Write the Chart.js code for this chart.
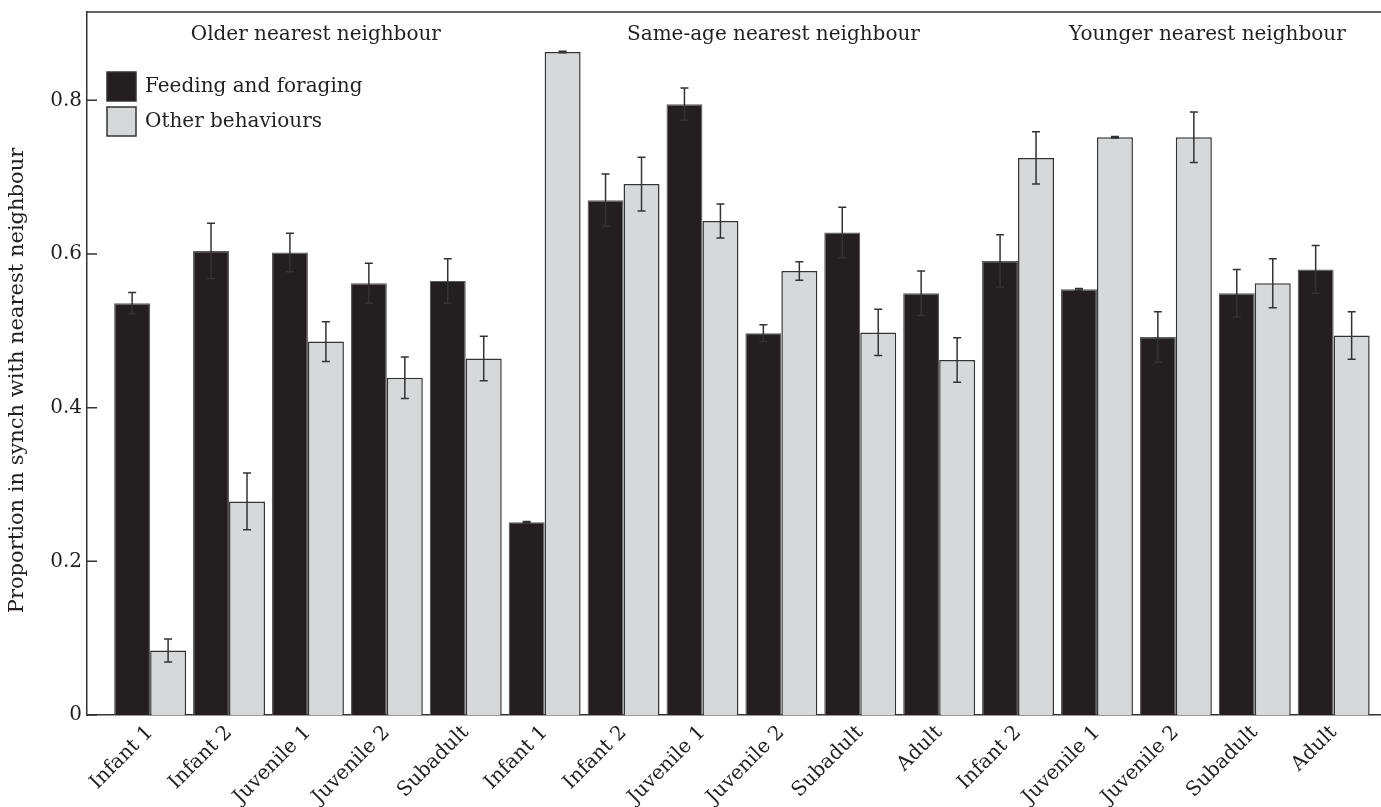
<!DOCTYPE html>
<html>
<head>
<meta charset="utf-8">
<script src="https://cdn.jsdelivr.net/npm/chart.js@4/dist/chart.umd.min.js"></script>
<style>
  html, body { margin: 0; padding: 0; background: #fff; }
  #wrap { width: 1381px; height: 807px; position: relative; }
</style>
</head>
<body>
<div id="wrap"><canvas id="synchChart"></canvas></div>
<script>
// age class of the focal animal, grouped by age of its nearest neighbour
const xLabels = ['Infant 1', 'Infant 2', 'Juvenile 1', 'Juvenile 2', 'Subadult',
    'Infant 1', 'Infant 2', 'Juvenile 1', 'Juvenile 2', 'Subadult', 'Adult',
    'Infant 2', 'Juvenile 1', 'Juvenile 2', 'Subadult', 'Adult'];

const feeding    = [0.536, 0.604, 0.602, 0.562, 0.565, 0.251, 0.670, 0.795, 0.497, 0.628, 0.549, 0.591, 0.554, 0.492, 0.549, 0.580];
const feedingErr = [0.014, 0.036, 0.025, 0.026, 0.029, 0.001, 0.034, 0.021, 0.011, 0.033, 0.029, 0.034, 0.001, 0.033, 0.031, 0.031];
const other      = [0.084, 0.278, 0.486, 0.439, 0.464, 0.863, 0.691, 0.643, 0.578, 0.498, 0.462, 0.725, 0.752, 0.752, 0.562, 0.494];
const otherErr   = [0.015, 0.037, 0.026, 0.027, 0.029, 0.001, 0.035, 0.022, 0.012, 0.030, 0.029, 0.034, 0.001, 0.033, 0.032, 0.031];

const yTicks = [0, 0.2, 0.4, 0.6, 0.8];
const yTitle = 'Proportion in synch with nearest neighbour';

// group captions, placed at a position along the category axis
const groupTitles = ['Older nearest neighbour', 'Same-age nearest neighbour', 'Younger nearest neighbour'];
const groupTitleAt = [2.1, 7.9, 13.4];

const FONT = '"DejaVu Serif", serif';
const INK = '#231f20';

function toPoints(values) {
    return values.map((v, i) => ({ x: i, y: v }));
}

// top frame line, inward y ticks, error bars, legend, captions and y title
const decorations = {
    id: 'decorations',
    afterDatasetsDraw(chart) {
        const ctx = chart.ctx;
        const yScale = chart.scales.y;
        const errs = [feedingErr, otherErr];

        ctx.save();
        ctx.strokeStyle = '#333';
        ctx.lineWidth = 1.5;
        chart.data.datasets.forEach((ds, d) => {
            const meta = chart.getDatasetMeta(d);
            meta.data.forEach((bar, i) => {
                const v = ds.data[i].y;
                const e = errs[d][i];
                const yHi = yScale.getPixelForValue(v + e);
                const yLo = yScale.getPixelForValue(v - e);
                ctx.beginPath();
                ctx.moveTo(bar.x, yHi);
                ctx.lineTo(bar.x, yLo);
                ctx.moveTo(bar.x - 4, yHi);
                ctx.lineTo(bar.x + 4, yHi);
                ctx.moveTo(bar.x - 4, yLo);
                ctx.lineTo(bar.x + 4, yLo);
                ctx.stroke();
            });
        });
        ctx.restore();
    },
    afterDraw(chart) {
        const ctx = chart.ctx;
        const area = chart.chartArea;
        const yScale = chart.scales.y;
        const xScale = chart.scales.x;

        ctx.save();
        ctx.strokeStyle = '#333';
        ctx.lineWidth = 1.5;
        ctx.beginPath();
        ctx.moveTo(area.left, area.top);
        ctx.lineTo(chart.width, area.top);
        yTicks.forEach(t => {
            const y = yScale.getPixelForValue(t);
            ctx.moveTo(area.left, y);
            ctx.lineTo(area.left + 10, y);
        });
        ctx.stroke();

        // legend
        ctx.font = '20px ' + FONT;
        ctx.textBaseline = 'middle';
        ctx.textAlign = 'left';
        chart.data.datasets.forEach((ds, d) => {
            const top = area.top + 60 + d * 35;
            ctx.fillStyle = ds.backgroundColor;
            ctx.fillRect(area.left + 20, top, 29, 29);
            ctx.strokeStyle = '#333';
            ctx.lineWidth = 1.5;
            ctx.strokeRect(area.left + 20, top, 29, 29);
            ctx.fillStyle = INK;
            ctx.fillText(ds.label, area.left + 58, top + 15);
        });

        // captions
        ctx.textAlign = 'center';
        groupTitles.forEach((t, g) => {
            ctx.fillText(t, xScale.getPixelForValue(groupTitleAt[g]), area.top + 23);
        });

        // y axis title
        ctx.font = '21px ' + FONT;
        ctx.translate(18, (area.top + area.bottom) / 2 + 17);
        ctx.rotate(-Math.PI / 2);
        ctx.fillText(yTitle, 0, 0);
        ctx.restore();
    }
};

function renderChart() {
    const ctx = document.getElementById('synchChart').getContext('2d');

    const data = {
        datasets: [{
            label: 'Feeding and foraging',
            data: toPoints(feeding),
            backgroundColor: INK,
            borderColor: '#5a5a5a',
            borderWidth: 1.2
        }, {
            label: 'Other behaviours',
            data: toPoints(other),
            backgroundColor: '#d7d8da',
            borderColor: '#333',
            borderWidth: 1.5
        }]
    };

    const config = {
        type: 'bar',
        data: data,
        plugins: [decorations],
        options: {
            responsive: true,
            maintainAspectRatio: false,
            animation: false,
            categoryPercentage: 0.912,
            barPercentage: 1.0,
            layout: { padding: { top: 12, right: 0, left: 0, bottom: 0 } },
            scales: {
                x: {
                    type: 'linear',
                    offset: false,
                    min: -0.8,
                    max: 15.6,
                    grid: { display: false, drawTicks: false },
                    border: { display: true, color: '#333', width: 1.5 },
                    afterBuildTicks: scale => {
                        scale.ticks = xLabels.map((_, i) => ({ value: i }));
                    },
                    afterFit: scale => {
                        scale.height = 92;
                        scale.paddingLeft = 0;
                        scale.paddingRight = 0;
                    },
                    ticks: {
                        autoSkip: false,
                        minRotation: 45,
                        maxRotation: 45,
                        padding: 6,
                        color: INK,
                        font: { family: FONT, size: 20 },
                        callback: value => xLabels[value]
                    }
                },
                y: {
                    min: 0,
                    max: 0.915,
                    grid: { display: false, drawTicks: false },
                    border: { display: true, color: '#333', width: 1.5 },
                    afterBuildTicks: scale => {
                        scale.ticks = yTicks.map(v => ({ value: v }));
                    },
                    afterFit: scale => {
                        scale.width = 87;
                        scale.paddingTop = 0;
                        scale.paddingBottom = 0;
                    },
                    ticks: {
                        padding: 5,
                        color: INK,
                        font: { family: FONT, size: 20 },
                        callback: value => value === 0 ? '0' : value.toFixed(1)
                    }
                }
            },
            plugins: {
                legend: { display: false },
                tooltip: { enabled: false }
            }
        }
    };

    new Chart(ctx, config);
}

document.addEventListener('DOMContentLoaded', renderChart);
</script>
</body>
</html>
